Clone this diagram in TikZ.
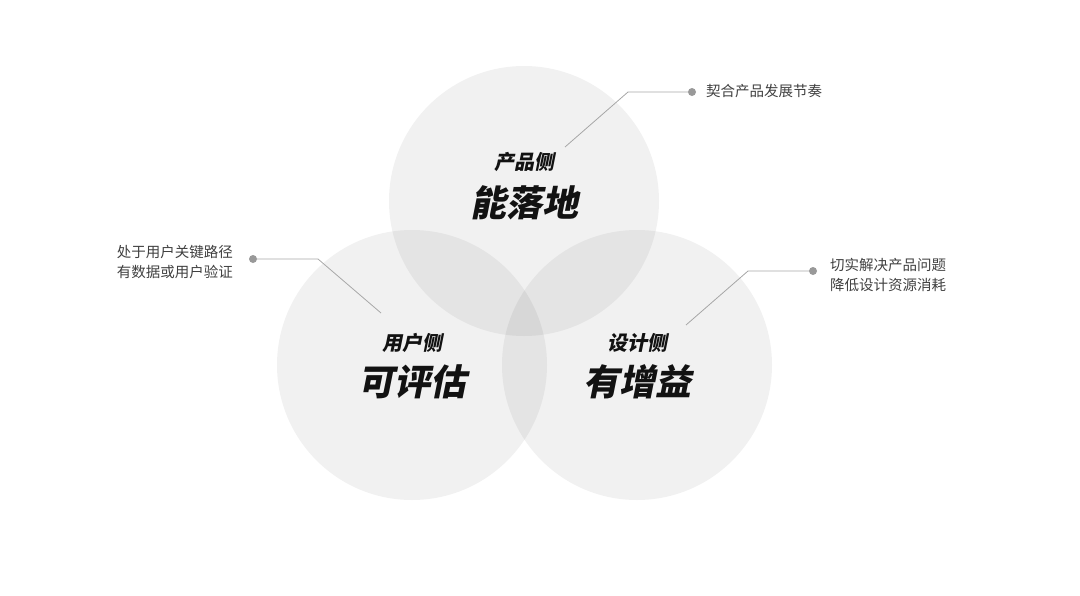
\documentclass[tikz,border=0pt]{standalone}
\usepackage{fontspec}
\setmainfont{Noto Sans CJK SC}
\newfontfamily\cjk{Noto Sans CJK SC}
\newfontfamily\cjkhead{Noto Sans CJK SC Black}[FakeSlant=0.2]
\begin{document}
\begin{tikzpicture}[x=1pt,y=-1pt,
  venn/.style={fill=black,fill opacity=0.055,draw=none},
  small/.style={font=\cjk\fontsize{14.5}{20}\selectfont,text=black!75,inner sep=0pt},
  sub/.style={font=\cjkhead\fontsize{20}{24}\selectfont,text=black!93,inner sep=0pt},
  big/.style={font=\cjkhead\fontsize{36}{40}\selectfont,text=black!93,inner sep=0pt},
  leader/.style={draw=black!35,line width=0.8pt},
  dot/.style={circle,fill=black!40,inner sep=0pt,minimum size=8pt}]
\useasboundingbox (0,0) rectangle (1080,595);
\fill[venn] (524,201) circle (135);
\fill[venn] (412,365) circle (135);
\fill[venn] (637,365) circle (135);

\node[sub] (s1) at (524,162) {产品侧};
\node[big] (b1) at (524,203) {能落地};
\node[sub] (s2) at (412,343) {用户侧};
\node[big] (b2) at (412,382) {可评估};
\node[sub] (s3) at (637,343) {设计侧};
\node[big] (b3) at (637,382) {有增益};

\node[dot] (d1) at (692,92) {};
\node[dot] (d2) at (253,259) {};
\node[dot] (d3) at (813,271) {};
\coordinate (e1) at (565,147);
\coordinate (k1) at (628,92);
\coordinate (e2) at (381,313);
\coordinate (k2) at (318,259);
\coordinate (e3) at (686,325);
\coordinate (k3) at (748,271);
\draw[leader] (e1) -- (k1) -- (d1);
\draw[leader] (e2) -- (k2) -- (d2);
\draw[leader] (e3) -- (k3) -- (d3);

\node[small,anchor=west] (t1) at (706,91) {契合产品发展节奏};
\node[small,anchor=east,align=left] (t2) at (233,262) {处于用户关键路径\\有数据或用户验证};
\node[small,anchor=west,align=left] (t3) at (830,275) {切实解决产品问题\\降低设计资源消耗};
\end{tikzpicture}
\end{document}
